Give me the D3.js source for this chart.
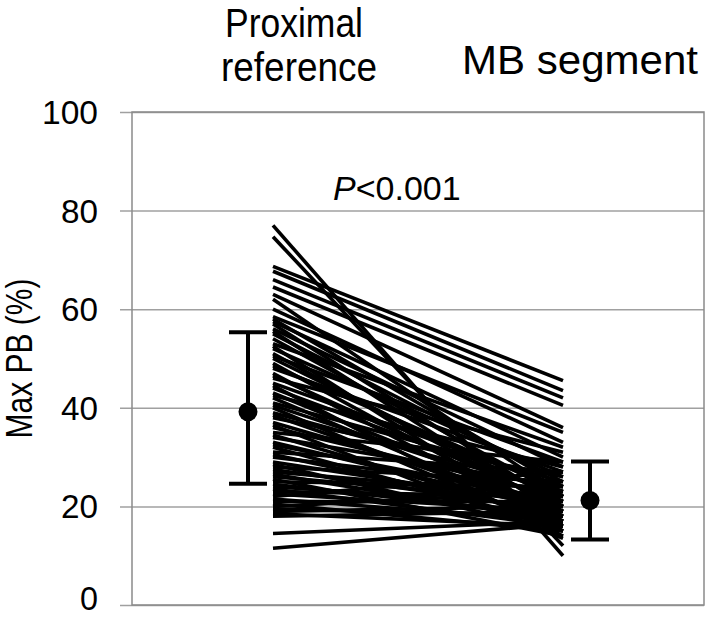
<!DOCTYPE html>
<html>
<head>
<meta charset="utf-8">
<script src="https://cdn.jsdelivr.net/npm/d3@7"></script>
<style>
  body { margin: 0; background: #fff; }
  text { font-family: "Liberation Sans", Arial, Helvetica, sans-serif; fill: #000; }
</style>
</head>
<body>
<div id="container"></div>
<script>
/* CONSTANTS AND GLOBALS */
const width = 709,
  height = 618,
  margin = {top: 112, left: 132, bottom: 12, right: 5};

/* DATA */
const categories = ["Proximal reference", "MB segment"];
const yTicks = [0, 20, 40, 60, 80, 100];

// paired values, one line per lesion (max PB %)
const proximal = [77, 74.7, 68.7, 67.7, 66, 64.5, 63, 62, 60, 58.5, 58, 57.5, 57, 56, 55.5, 55,
  54, 53, 52.5, 52, 51, 50.5, 50, 49, 48.5, 48, 47, 46.5, 46, 45, 44.5, 44, 43, 42.5, 42, 41,
  40.5, 40, 39, 38.5, 38, 37, 36.5, 36, 35, 34.5, 34, 33, 32.5, 32, 31, 30.5, 30, 29, 28.5, 28,
  27.5, 27, 26.5, 26, 25.5, 25, 24.5, 24, 23.5, 23, 22.5, 22, 21.5, 21, 20.5, 20, 19.5, 19,
  18.5, 18, 14.5, 11.5];
const mbSegment = [10, 12, 45.5, 43.5, 42, 40.5, 36, 22, 33, 35, 24, 30, 20, 28, 18, 25,
  22, 32, 15, 26, 19, 29, 21, 17, 23, 27, 16, 20, 31, 24, 14, 22, 19, 28, 17, 25,
  21, 15, 23, 18, 26, 20, 13.5, 22, 29, 17, 24, 19, 21, 16, 27, 18, 23, 20, 15, 25,
  19, 22, 17, 21, 14, 24, 18, 20, 16, 22, 19, 27, 17, 21, 15, 23, 18, 20,
  16, 19, 17, 16.5];

// mean and error bar ends
const meanValues = [39.2, 21.2];
const lowValues = [24.6, 13.3];
const highValues = [55.3, 29.1];

const pairs = proximal.map((p, i) => ({prox: p, mb: mbSegment[i]}));

// SCALES
const yScale = d3.scaleLinear()
  .domain([0, 100])
  .range([height - margin.bottom - 1, margin.top]);

const xScale = d3.scalePoint()
  .domain(categories)
  .range([273, 563]);

const errOffset = [-25, 27];

// CREATE SVG ELEMENT
const svg = d3.select("#container")
  .append("svg")
  .attr("width", width)
  .attr("height", height);

// GRID + AXIS
const yAxis = d3.axisLeft(yScale)
  .tickValues(yTicks)
  .tickSize(-(width - margin.right - margin.left))
  .tickPadding(34);

const gy = svg.append("g")
  .attr("transform", `translate(${margin.left},0)`)
  .call(yAxis);
gy.select(".domain").remove();
gy.selectAll(".tick line").attr("stroke", "#a0a0a0").attr("stroke-width", 1.5).attr("x1", -12);
gy.selectAll(".tick text")
  .attr("x", -34)
  .style("font-size", "34px")
  .attr("dy", d => d === 0 ? "0.12em" : "0.34em")
  .attr("textLength", d => d === 100 ? 56 : (d === 0 ? 18 : 37))
  .attr("lengthAdjust", "spacingAndGlyphs");

// box
svg.append("rect")
  .attr("x", margin.left)
  .attr("y", margin.top)
  .attr("width", width - margin.right - margin.left)
  .attr("height", yScale(0) - margin.top)
  .attr("fill", "none")
  .attr("stroke", "#8a8a8a")
  .attr("stroke-width", 1.5);

// PAIRED LINES
const lineGen = d3.line()
  .x(d => d[0])
  .y(d => yScale(d[1]));

svg.selectAll(".pair")
  .data(pairs)
  .join("path")
  .attr("class", "pair")
  .attr("d", d => lineGen([[xScale(categories[0]), d.prox], [xScale(categories[1]), d.mb]]))
  .attr("stroke", "black")
  .attr("stroke-width", 3.6)
  .attr("fill", "none");

// ERROR BARS
const errData = categories.map((c, i) => ({
  x: xScale(c) + errOffset[i], mean: meanValues[i], lo: lowValues[i], hi: highValues[i]
}));

const eg = svg.selectAll(".err")
  .data(errData)
  .join("g")
  .attr("class", "err");

eg.append("line")
  .attr("x1", d => d.x).attr("x2", d => d.x)
  .attr("y1", d => yScale(d.lo)).attr("y2", d => yScale(d.hi))
  .attr("stroke", "black").attr("stroke-width", 4);
eg.selectAll(".cap")
  .data(d => [{x: d.x, v: d.lo}, {x: d.x, v: d.hi}])
  .join("line")
  .attr("class", "cap")
  .attr("x1", d => d.x - 19).attr("x2", d => d.x + 19)
  .attr("y1", d => yScale(d.v)).attr("y2", d => yScale(d.v))
  .attr("stroke", "black").attr("stroke-width", 4);
eg.append("circle")
  .attr("cx", d => d.x)
  .attr("cy", d => yScale(d.mean))
  .attr("r", 9.5)
  .attr("fill", "black");

// LABELS
const header = (txt, x, y, len, anchor) => svg.append("text")
  .attr("x", x).attr("y", y)
  .attr("text-anchor", anchor)
  .style("font-size", "40px")
  .attr("textLength", len)
  .attr("lengthAdjust", "spacingAndGlyphs")
  .text(txt);

header("Proximal", 225, 37, 138, "start");
header("reference", 221, 81, 156, "start");
header("MB segment", 698, 74, 236, "end");

const pText = svg.append("text")
  .attr("x", 333).attr("y", 200)
  .style("font-size", "34px");
pText.append("tspan").style("font-style", "italic").text("P");
pText.append("tspan").text("<0.001");

svg.append("text")
  .attr("transform", `translate(32,${(yScale(0) + yScale(100)) / 2}) rotate(-90)`)
  .attr("text-anchor", "middle")
  .style("font-size", "36px")
  .attr("textLength", 160)
  .attr("lengthAdjust", "spacingAndGlyphs")
  .text("Max PB (%)");
</script>
</body>
</html>
